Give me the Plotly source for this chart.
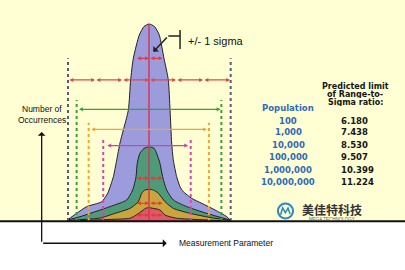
import plotly.graph_objects as go

# ---------------- data (x in sigma units, y in relative occurrences) ----------------
blue_x = [-6.05, -5.36, -4.61, -3.50, -3.06, -2.64, -2.39, -2.15, -1.90, -1.53, -1.36, -1.16, -0.72, -0.37, 0.0,
          0.41, 0.76, 1.11, 1.43, 1.56, 1.68, 1.80, 2.05, 2.30, 2.54, 3.16, 3.90, 4.89, 5.76, 6.0]
blue_y = [0.5, 3.9, 7.3, 9.8, 14.1, 22.5, 31.0, 39.6, 46.2, 56.3, 71.6, 82.6, 94.4, 98.7, 100.0,
          98.7, 94.4, 82.6, 71.6, 56.3, 39.6, 31.0, 22.5, 17.4, 14.9, 11.5, 9.0, 5.6, 2.2, 0.5]

green_x = [-6.05, -5.11, -2.89, -1.65, -1.21, -0.96, -0.87, -0.67, -0.37, 0.0,
           0.39, 0.56, 0.81, 1.01, 1.31, 1.80, 2.79, 4.27, 6.0]
green_y = [0.5, 2.2, 7.3, 10.7, 15.7, 22.5, 29.3, 34.4, 36.8, 37.7,
           36.8, 34.4, 29.3, 22.5, 15.7, 10.7, 7.3, 3.9, 0.5]

yellow_x = [-6.05, -3.63, -2.52, -1.41, -0.79, -0.54, -0.30, 0.0, 0.33, 0.69, 1.19, 1.80, 3.04, 4.52, 6.0]
yellow_y = [0.3, 1.5, 3.9, 6.4, 9.8, 14.1, 15.7, 16.1, 15.7, 14.1, 9.8, 6.4, 3.9, 1.8, 0.3]

red_x = [-5.11, -2.89, -1.41, -0.96, -0.42, -0.24, 0.0, 0.24, 0.81, 1.19, 2.05, 3.41, 5.26]
red_y = [0.25, 0.8, 1.4, 3.0, 5.6, 6.5, 6.8, 6.5, 5.6, 3.0, 1.4, 0.8, 0.25]

# dotted limit lines: (left x, right x, top y)
limit_left = [-6.0, -5.36, -4.47, -3.39]
limit_right = [6.05, 5.36, 4.44, 3.09]
limit_top = [82.6, 61.4, 49.9, 42.4]
limit_colors = ["#5a5a78", "#3aa03a", "#f2a530", "#d24aa8"]

# range arrows (left, right, y)
range_left = [-5.3, -4.4, -3.2]
range_right = [5.3, 4.3, 2.9]
range_y = [56.7, 46.5, 38.3]
range_colors = ["#3aa03a", "#f2a530", "#c848a0"]

six_sigma_ticks = [-6, -4, -2, 0, 2, 4, 6]
six_sigma_y = 71.6
one_sigma_ticks = [-1, 0, 1]
one_sigma_rows = [82.6, 21.7, 9.0, 3.0]

populations = ["100", "1,000", "10,000", "100,000", "1,000,000", "10,000,000"]
ratios = ["6.180", "7.438", "8.530", "9.507", "10.399", "11.224"]
row_y = [50.9, 45.0, 38.6, 32.3, 25.9, 19.6]
header_lines = ["Predicted limit", "of Range-to-", "Sigma ratio:"]
header_y = [68.4, 64.3, 60.2]

XR = [-11.037, 18.963]
YR = [-24.87, 112.18]

fig = go.Figure()

# curves
for xs, ys, col in [(blue_x, blue_y, "#9c9cdc"), (green_x, green_y, "#4f9a78"),
                    (yellow_x, yellow_y, "#c9a53c"), (red_x, red_y, "#e2566a")]:
    fig.add_trace(go.Scatter(x=xs, y=ys, mode="lines", fill="tozeroy", fillcolor=col,
                             line=dict(color="#222222", width=1, shape="spline", smoothing=0.6),
                             hoverinfo="skip"))

# dotted limit lines
for xl, xr, yt, c in zip(limit_left, limit_right, limit_top, limit_colors):
    for xv in (xl, xr):
        fig.add_trace(go.Scatter(x=[xv, xv], y=[0, yt], mode="lines",
                                 line=dict(color=c, width=2, dash="dot"), hoverinfo="skip"))

# center line
fig.add_trace(go.Scatter(x=[0, 0], y=[0, 100], mode="lines",
                         line=dict(color="#d03858", width=1.5), hoverinfo="skip"))

annotations = []

def arrow(x0, x1, y, color, width=1.2, size=0.65, head=2, side="end+start"):
    annotations.append(dict(x=x1, y=y, ax=x0, ay=y, xref="x", yref="y", axref="x", ayref="y",
                            text="", showarrow=True, arrowhead=head, arrowside=side,
                            arrowwidth=width, arrowsize=size, arrowcolor=color,
                            standoff=0, startstandoff=0))

for a, b in zip(six_sigma_ticks[:-1], six_sigma_ticks[1:]):
    arrow(a, b, six_sigma_y, "#e04848")
for yy in one_sigma_rows:
    for a, b in zip(one_sigma_ticks[:-1], one_sigma_ticks[1:]):
        arrow(a, b, yy, "#e03c3c")
for xl, xr, yy, c in zip(range_left, range_right, range_y, range_colors):
    arrow(xl, xr, yy, c)

# sigma call-out
fig.add_trace(go.Scatter(x=[2.30, 2.30], y=[97.0, 87.3], mode="lines",
                         line=dict(color="#222222", width=1.5), hoverinfo="skip"))
fig.add_trace(go.Scatter(x=[2.30, 1.43], y=[93.9, 93.9], mode="lines",
                         line=dict(color="#222222", width=1.5), hoverinfo="skip"))
annotations.append(dict(x=0.32, y=85.9, ax=1.43, ay=93.9, xref="x", yref="y", axref="x", ayref="y",
                        text="", showarrow=True, arrowhead=1, arrowwidth=1.5, arrowsize=0.9,
                        arrowcolor="#222222", standoff=0))
annotations.append(dict(x=2.74, y=91.5, xref="x", yref="y", text="+/- 1 sigma", showarrow=False,
                        xanchor="left", yanchor="middle",
                        font=dict(family="Arial, Liberation Sans", size=11, color="#111111")))

# axes arrows (schematic)
annotations.append(dict(x=-7.95, y=45.2, ax=-7.95, ay=-11.3, xref="x", yref="y", axref="x", ayref="y",
                        text="", showarrow=True, arrowhead=1, arrowwidth=1.3, arrowsize=1.0,
                        arrowcolor="#111111", standoff=0))
annotations.append(dict(x=1.31, y=-11.3, ax=-7.95, ay=-11.3, xref="x", yref="y", axref="x", ayref="y",
                        text="", showarrow=True, arrowhead=1, arrowwidth=1.3, arrowsize=1.0,
                        arrowcolor="#111111", standoff=0))
lab_font = dict(family="Arial, Liberation Sans", size=8.5, color="#111111")
annotations.append(dict(x=-7.95, y=56.7, xref="x", yref="y", text="Number of", showarrow=False,
                        xanchor="center", yanchor="middle", font=lab_font))
annotations.append(dict(x=-7.95, y=51.3, xref="x", yref="y", text="Occurrences", showarrow=False,
                        xanchor="center", yanchor="middle", font=lab_font))
annotations.append(dict(x=2.04, y=-11.3, xref="x", yref="y", text="Measurement Parameter",
                        showarrow=False, xanchor="left", yanchor="middle", font=lab_font))

# table
tfont = dict(family="Verdana, DejaVu Sans", size=8.5, color="#151515")
hfont = dict(family="Verdana, DejaVu Sans", size=8, color="#151515")
bfont = dict(family="Verdana, DejaVu Sans", size=8.5, color="#2f6bb8")
for txt, yy in zip(header_lines, header_y):
    annotations.append(dict(x=15.26, y=yy, xref="x", yref="y", text="<b>" + txt + "</b>",
                            showarrow=False, xanchor="center", yanchor="middle", font=hfont,
                            height=8, valign="middle"))
annotations.append(dict(x=10.32, y=57.5, xref="x", yref="y", text="<b>Population</b>",
                        showarrow=False, xanchor="center", yanchor="middle", font=bfont))
for p, r, yy in zip(populations, ratios, row_y):
    annotations.append(dict(x=10.32, y=yy, xref="x", yref="y", text="<b>" + p + "</b>",
                            showarrow=False, xanchor="center", yanchor="middle", font=bfont))
    annotations.append(dict(x=14.11, y=yy, xref="x", yref="y", text="<b>" + r + "</b>",
                            showarrow=False, xanchor="left", yanchor="middle", font=tfont))

# watermark logo
annotations.append(dict(x=13.59, y=5.6, xref="x", yref="y", text="<b>美佳特科技</b>", showarrow=False,
                        xanchor="center", yanchor="middle",
                        font=dict(family="Noto Sans CJK SC", size=12, color="#333333")))
annotations.append(dict(x=13.59, y=0.9, xref="x", yref="y", text="MEGA TECHNOLOGY", showarrow=False,
                        xanchor="center", yanchor="middle",
                        font=dict(family="Arial, Liberation Sans", size=4.5, color="#555555")))

shapes = [
    dict(type="rect", xref="x", yref="y", x0=XR[0], x1=XR[1], y0=0, y1=YR[1],
         fillcolor="#ffffd3", line=dict(width=0), layer="below"),
    dict(type="line", xref="x", yref="y", x0=XR[0], x1=XR[1], y0=-0.1, y1=-0.1,
         line=dict(color="#111111", width=2)),
    dict(type="circle", xref="x", yref="y", x0=10.11 - 0.56, x1=10.11 + 0.56, y0=5.08 - 3.81, y1=5.08 + 3.81,
         line=dict(color="#2a88c8", width=2)),
    dict(type="path", xref="x", yref="y",
         path="M 9.75 3.2 L 9.9 6.6 L 10.1 4.2 L 10.3 6.6 L 10.45 3.6",
         line=dict(color="#2a88c8", width=1.5)),
]

fig.update_layout(
    width=405, height=270, margin=dict(l=0, r=0, t=0, b=0),
    paper_bgcolor="white", plot_bgcolor="white", showlegend=False,
    xaxis=dict(range=XR, visible=False, fixedrange=True),
    yaxis=dict(range=YR, visible=False, fixedrange=True),
    annotations=annotations, shapes=shapes,
)

fig.write_html("out.html")
